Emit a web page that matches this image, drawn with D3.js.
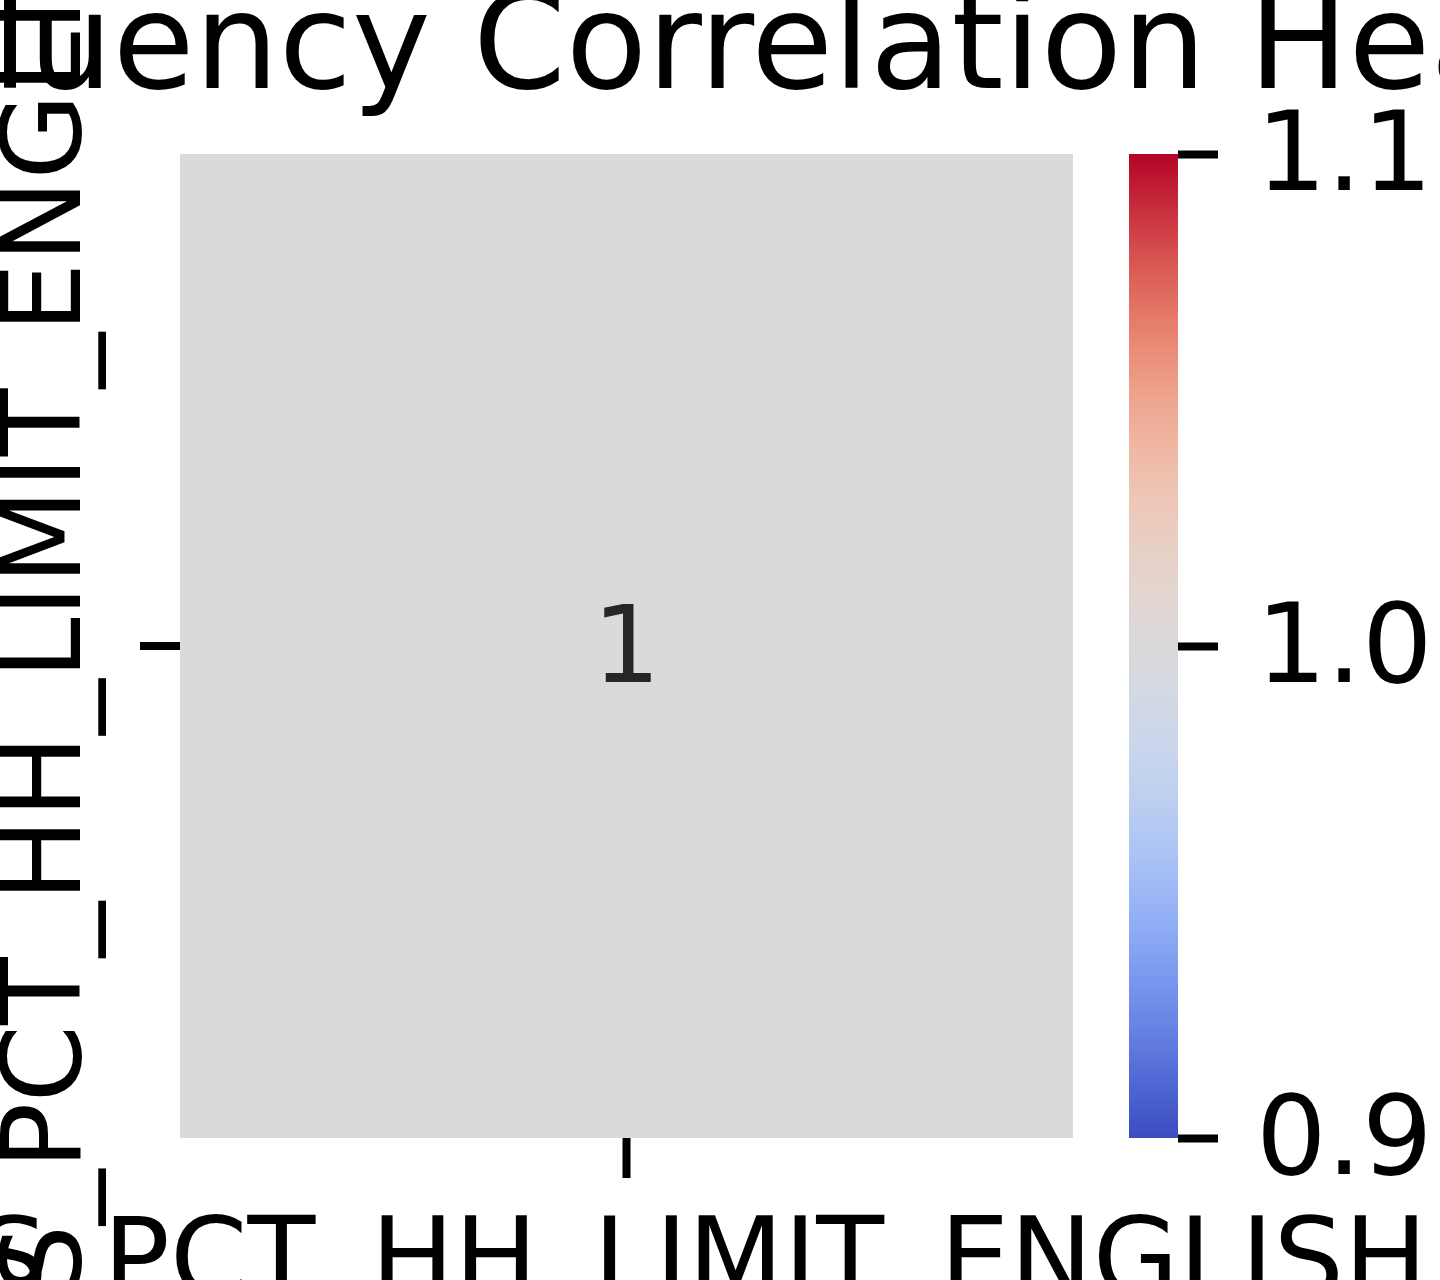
<!DOCTYPE html>
<html>
<head>
<meta charset="utf-8">
<script src="https://cdn.jsdelivr.net/npm/d3@7"></script>
<style>
  body { margin: 0; background: #fff; overflow: hidden; }
  text { font-family: "DejaVu Sans", sans-serif; }
</style>
</head>
<body>
<svg id="chart" width="1440" height="1280"></svg>
<script>
// data
const variables = ["ACS_PCT_HH_LIMIT_ENGLISH"];
const corrValues = [[1]];
const colorTicks = [0.9, 1.0, 1.1];
const coolwarmStops = ["#3b4cc0", "#7b9ff9", "#c0d4f5", "#dcdddd", "#f2cbb7", "#ee8468", "#b40426"];
const title = "English Fluency Correlation Heatmap";

const svg = d3.select("#chart");
const fs = 111;

const x = d3.scaleBand().domain(variables).range([180, 1073]);
const y = d3.scaleBand().domain(variables).range([154, 1138]);
const color = d3.scaleSequential(d3.interpolateRgbBasis(coolwarmStops)).domain([0.9, 1.1]);

// cells
const cells = [];
variables.forEach((r, i) => variables.forEach((c, j) => cells.push({ r, c, v: corrValues[i][j] })));

svg.selectAll("rect.cell").data(cells).enter().append("rect")
  .attr("x", d => x(d.c)).attr("y", d => y(d.r))
  .attr("width", x.bandwidth()).attr("height", y.bandwidth())
  .attr("fill", d => color(d.v));

svg.selectAll("text.annot").data(cells).enter().append("text")
  .attr("x", d => x(d.c) + x.bandwidth() / 2)
  .attr("y", d => y(d.r) + y.bandwidth() / 2)
  .attr("dy", "0.34em").attr("text-anchor", "middle")
  .attr("font-size", 107).attr("fill", "#262626")
  .text(d => d3.format("d")(d.v));

// axes
const xAxis = svg.append("g").attr("transform", "translate(0,1138)")
  .call(d3.axisBottom(x).tickSize(40).tickPadding(38));
const yAxis = svg.append("g").attr("transform", "translate(180,0)")
  .call(d3.axisLeft(y).tickSize(40).tickPadding(30));
[xAxis, yAxis].forEach(a => {
  a.select(".domain").remove();
  a.selectAll(".tick line").attr("stroke", "#000").attr("stroke-width", 8);
  a.selectAll("text").attr("font-size", fs).attr("fill", "#000").attr("font-family", "DejaVu Sans");
});
xAxis.selectAll("text").attr("dy", "0.72em");
yAxis.selectAll(".tick text")
  .attr("transform", "rotate(-90)")
  .attr("x", 0).attr("y", -100).attr("dy", 0)
  .attr("text-anchor", "middle");

// colorbar
const cbX = 1129, cbW = 49;
const cy = d3.scaleLinear().domain([0.9, 1.1]).range([1138, 154]);
const defs = svg.append("defs");
const grad = defs.append("linearGradient").attr("id", "cb")
  .attr("x1", 0).attr("y1", 1).attr("x2", 0).attr("y2", 0);
d3.range(0, 1.0001, 0.05).forEach(t => {
  grad.append("stop").attr("offset", t).attr("stop-color", color(0.9 + 0.2 * t));
});
svg.append("rect").attr("x", cbX).attr("y", 154).attr("width", cbW).attr("height", 984)
  .attr("fill", "url(#cb)");
const cAxis = svg.append("g").attr("transform", `translate(${cbX + cbW},0)`)
  .call(d3.axisRight(cy).tickValues(colorTicks).tickFormat(d3.format(".1f")).tickSize(40).tickPadding(38));
cAxis.select(".domain").remove();
cAxis.selectAll(".tick line").attr("stroke", "#000").attr("stroke-width", 8);
cAxis.selectAll("text").attr("font-size", fs).attr("fill", "#000").attr("font-family", "DejaVu Sans");

// title
svg.append("text").attr("x", 626).attr("y", 88).attr("text-anchor", "middle")
  .attr("font-size", 133).attr("fill", "#000").text(title);
</script>
</body>
</html>
